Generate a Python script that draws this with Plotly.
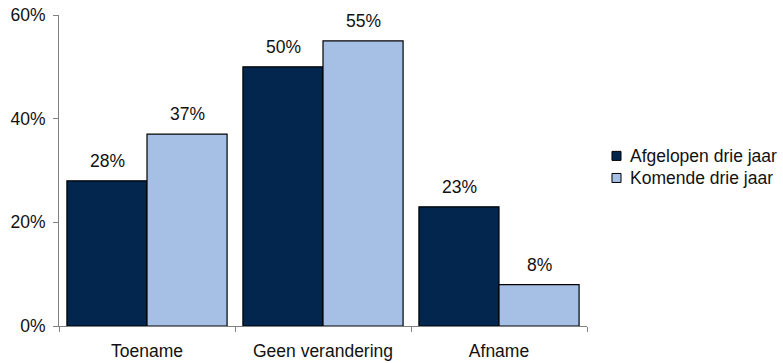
import plotly.graph_objects as go

categories = ["Toename", "Geen verandering", "Afname"]
series_names = ["Afgelopen drie jaar", "Komende drie jaar"]
afgelopen = [0.28, 0.50, 0.23]
komende = [0.37, 0.55, 0.08]
y_ticks = [0, 0.2, 0.4, 0.6]
colors = ["#03264f", "#a6bfe4"]

FONT = "Liberation Sans, Arial, sans-serif"
TXT = "#111111"

fig = go.Figure()
for name, vals, col in zip(series_names, [afgelopen, komende], colors):
    fig.add_trace(go.Bar(
        x=categories, y=vals, name=name,
        marker=dict(color=col, line=dict(color="#000000", width=1.2)),
        hoverinfo="skip", showlegend=False,
    ))

# data labels as annotations
for i, vals in enumerate([afgelopen, komende]):
    for c, v in zip(categories, vals):
        fig.add_annotation(
            x=c, y=v, text=f"{round(v*100)}%", showarrow=False,
            xref="x", yref="y", yanchor="bottom", yshift=8,
            xshift=(-40 if i == 0 else 40),
            font=dict(family=FONT, size=17.5, color=TXT),
        )

# manual legend (positions in paper units of the plot area)
legend_y = [0.547, 0.476]
for name, col, ly in zip(series_names, colors, legend_y):
    fig.add_shape(
        type="rect", xref="paper", yref="paper",
        x0=1.0473, x1=1.0644, y0=ly - 0.0145, y1=ly + 0.0145,
        fillcolor=col, line=dict(color="#000000", width=1),
    )
    fig.add_annotation(
        x=1.0777, y=ly, xref="paper", yref="paper",
        xanchor="left", yanchor="middle", showarrow=False,
        text=name, font=dict(family=FONT, size=17.5, color=TXT),
    )

fig.update_layout(
    width=783, height=363,
    margin=dict(l=59, r=196, t=15, b=37, autoexpand=False),
    paper_bgcolor="white", plot_bgcolor="white",
    barmode="group", bargap=0.09, bargroupgap=0,
    font=dict(family=FONT, size=17.5, color=TXT),
    showlegend=False,
)
fig.update_xaxes(
    showline=True, linecolor="#808080", linewidth=1,
    ticks="outside", tickson="boundaries", ticklen=5, tickcolor="#808080",
    ticklabelstandoff=9, showgrid=False, automargin=False,
)
fig.update_yaxes(
    range=[0, 0.6], tickvals=y_ticks, tickformat=".0%",
    showline=True, linecolor="#808080", linewidth=1,
    ticks="outside", ticklen=5, tickcolor="#808080",
    showgrid=False, zeroline=False, ticklabelstandoff=4, automargin=False,
)

fig.write_html("out.html")
